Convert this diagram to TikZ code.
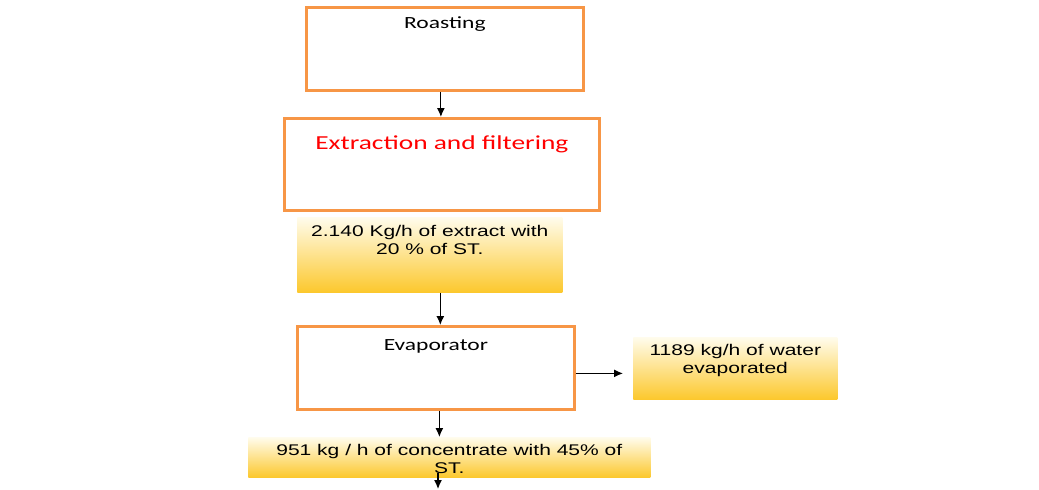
\documentclass[tikz,border=0pt]{standalone}
\usepackage{fontspec}
\setmainfont{Liberation Sans}[FakeStretch=1.36]
\newfontfamily\calibri{Carlito}[FakeStretch=1.38]
\usetikzlibrary{arrows.meta}
\definecolor{boxorange}{RGB}{247,150,70}
\definecolor{flowtop}{RGB}{255,252,236}
\definecolor{flowmid}{RGB}{254,241,192}
\definecolor{flowbot}{RGB}{252,200,45}

\begin{document}
\begin{tikzpicture}[x=0.02cm, y=-0.02cm, >={Latex[length=1.8mm, width=1.6mm]},
	proc/.style={draw=boxorange, line width=1.6pt, fill=white, anchor=north west, inner sep=0pt, align=center, font=\calibri\fontsize{9.7}{11}\selectfont},
	flow/.style={top color=flowtop, middle color=flowmid, bottom color=flowbot, anchor=north west, inner sep=0pt, align=center, font=\fontsize{8.8}{10.2}\selectfont},
	link/.style={->, line width=0.7pt}]
	\useasboundingbox (0,0) rectangle (1039,490);
	\node[proc, minimum width=5.54cm, text height=0.42cm, text depth=1.24cm] (roast) at (305,6) {Roasting};
	\node[proc, minimum width=6.3cm, text height=0.62cm, text depth=1.22cm, text=red, font=\calibri\fontsize{11.3}{13}\selectfont] (extr) at (283,117) {Extraction and filtering};
	\node[flow, minimum width=5.3cm, text height=0.74cm, text depth=0.76cm] (ext) at (297,217) {2.140 Kg/h of extract with\\ 20 \% of ST.};
	\node[proc, minimum width=5.54cm, text height=0.48cm, text depth=1.18cm] (evap) at (296,325) {Evaporator};
	\node[flow, minimum width=4.08cm, text height=0.72cm, text depth=0.52cm] (water) at (633,337) {1189 kg/h of water\\ evaporated};
	\node[flow, minimum width=8.04cm, text height=0.72cm, text depth=0.08cm] (conc) at (248,437) {951 kg / h of concentrate with 45\% of\\ ST.};
	\coordinate (out) at (438,489);
	% flow connections
	\draw[link] ([xshift=-0.08cm]roast.south) -- ([xshift=-0.08cm]roast.south |- extr.north);
	\draw[link] ([xshift=0.21cm]ext.south) -- ([xshift=0.21cm]ext.south |- evap.north);
	\draw[link, shorten >=0.2cm] ([yshift=-0.11cm]evap.east) -- ([yshift=-0.11cm]evap.east -| water.west);
	\draw[link] ([xshift=0.07cm]evap.south) -- ([xshift=0.07cm]evap.south |- conc.north);
	\draw[link] ([yshift=0.1cm]conc.south -| out) -- (out);
\end{tikzpicture}
\end{document}
